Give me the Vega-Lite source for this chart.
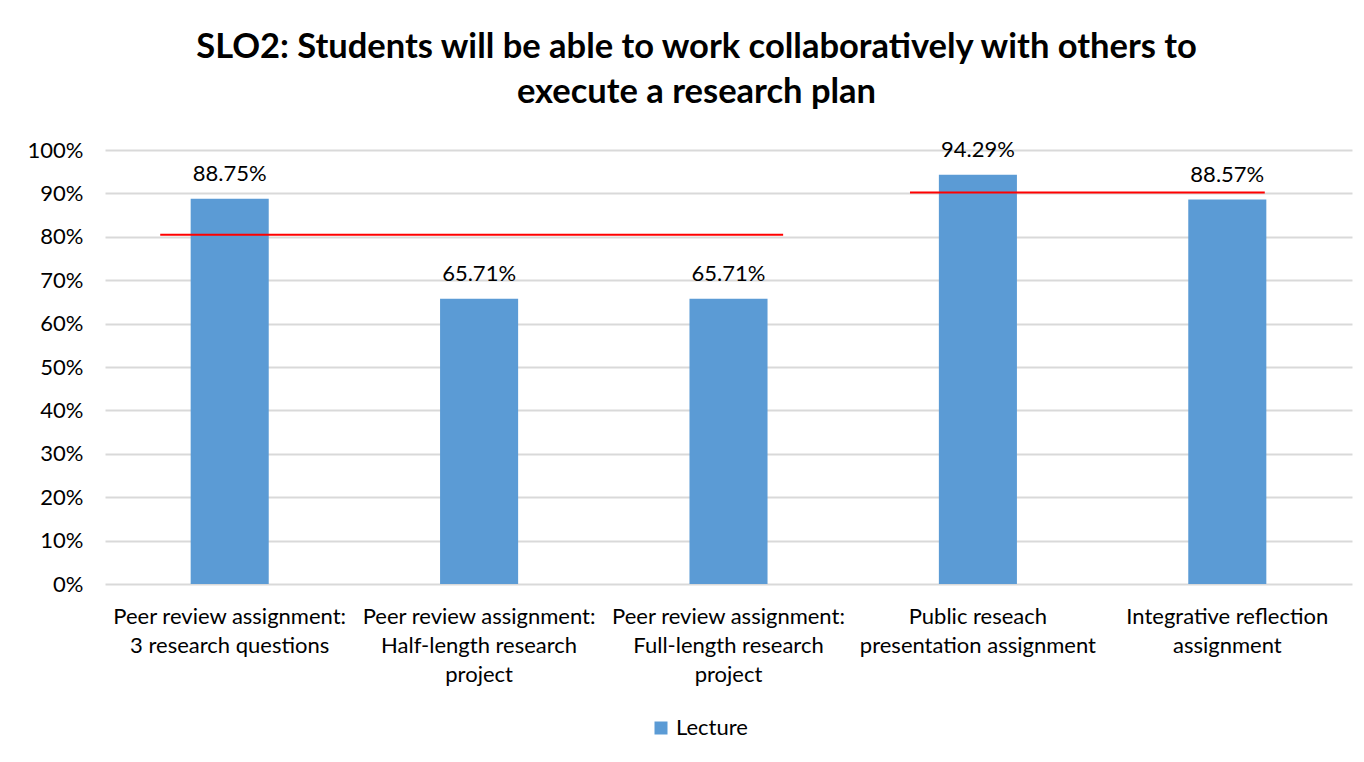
{
  "$schema": "https://vega.github.io/schema/vega-lite/v6.json",
  "width": 1247,
  "height": 434,
  "autosize": {"type": "none"},
  "padding": {"left": 105, "top": 150, "right": 12, "bottom": 178},
  "background": "white",
  "title": {
    "text": ["SLO2: Students will be able to work collaboratively with others to", "execute a research plan"],
    "font": "Lato",
    "fontSize": 34.5,
    "fontWeight": "bold",
    "color": "#000000",
    "lineHeight": 45,
    "anchor": "middle",
    "dx": -32,
    "offset": 28
  },
  "data": {
    "values": [
      {"assignment": "Peer review assignment: 3 research questions", "pct": 0.8875, "group": "Lecture"},
      {"assignment": "Peer review assignment: Half-length research project", "pct": 0.6571, "group": "Lecture"},
      {"assignment": "Peer review assignment: Full-length research project", "pct": 0.6571, "group": "Lecture"},
      {"assignment": "Public reseach presentation assignment", "pct": 0.9429, "group": "Lecture"},
      {"assignment": "Integrative reflection assignment", "pct": 0.8857, "group": "Lecture"}
    ]
  },
  "encoding": {
    "x": {
      "field": "assignment",
      "type": "nominal",
      "sort": null,
      "scale": {"paddingInner": 0.687, "paddingOuter": 0.3435},
      "axis": {
        "title": null,
        "labelAngle": 0,
        "labelFont": "Lato",
        "labelFontSize": 22,
        "labelColor": "#000000",
        "labelLineHeight": 29,
        "labelBaseline": "top",
        "labelPadding": 22,
        "labelLimit": 400,
        "labelOverlap": false,
        "ticks": false,
        "domain": false,
        "labelExpr": "datum.value == 'Peer review assignment: 3 research questions' ? ['Peer review assignment:', '3 research questions'] : datum.value == 'Peer review assignment: Half-length research project' ? ['Peer review assignment:', 'Half-length research', 'project'] : datum.value == 'Peer review assignment: Full-length research project' ? ['Peer review assignment:', 'Full-length research', 'project'] : datum.value == 'Public reseach presentation assignment' ? ['Public reseach', 'presentation assignment'] : ['Integrative reflection', 'assignment']"
      }
    },
    "y": {
      "field": "pct",
      "type": "quantitative",
      "scale": {"domain": [0, 1]},
      "axis": {
        "title": null,
        "format": ".0%",
        "values": [0, 0.1, 0.2, 0.3, 0.4, 0.5, 0.6, 0.7, 0.8, 0.9, 1],
        "labelOverlap": false,
        "labelFont": "Lato",
        "labelFontSize": 22,
        "labelColor": "#000000",
        "labelPadding": 22,
        "ticks": false,
        "domain": false,
        "grid": true,
        "gridColor": "#D9D9D9",
        "gridWidth": 2
      }
    }
  },
  "layer": [
    {
      "mark": {"type": "bar", "color": "#5B9BD5"},
      "encoding": {
        "color": {
          "field": "group",
          "type": "nominal",
          "scale": {"range": ["#5B9BD5"]},
          "legend": {
            "title": null,
            "orient": "none",
            "legendX": 545,
            "legendY": 567,
            "symbolType": "square",
            "symbolSize": 169,
            "symbolStrokeWidth": 0,
            "labelFont": "Lato",
            "labelFontSize": 22,
            "labelColor": "#000000",
            "labelOffset": 4
          }
        }
      }
    },
    {
      "mark": {"type": "text", "font": "Lato", "fontSize": 22, "color": "#000000", "baseline": "bottom", "dy": -13},
      "encoding": {
        "text": {"field": "pct", "type": "quantitative", "format": ".2%"}
      }
    },
    {
      "data": {
        "values": [
          {"from": "Peer review assignment: 3 research questions", "to": "Peer review assignment: Full-length research project", "target": 0.805}
        ]
      },
      "mark": {"type": "rule", "color": "#FF0000", "strokeWidth": 2},
      "encoding": {
        "x": {"field": "from", "type": "nominal", "bandPosition": -0.39},
        "x2": {"field": "to", "bandPosition": 1.2},
        "y": {"field": "target", "type": "quantitative"}
      }
    },
    {
      "data": {
        "values": [
          {"from": "Public reseach presentation assignment", "to": "Integrative reflection assignment", "target": 0.902}
        ]
      },
      "mark": {"type": "rule", "color": "#FF0000", "strokeWidth": 2},
      "encoding": {
        "x": {"field": "from", "type": "nominal", "bandPosition": -0.37},
        "x2": {"field": "to", "bandPosition": 0.98},
        "y": {"field": "target", "type": "quantitative"}
      }
    }
  ],
  "config": {
    "view": {"stroke": null}
  }
}
